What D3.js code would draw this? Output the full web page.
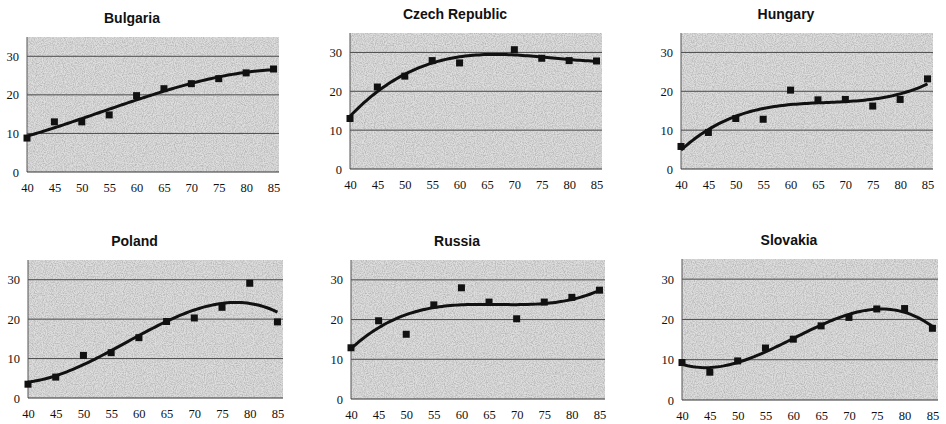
<!DOCTYPE html>
<html>
<head>
<meta charset="utf-8">
<script src="https://cdn.jsdelivr.net/npm/d3@7"></script>
<style>
  body { margin: 0; background: #fff; }
  .title { font: bold 14px "Liberation Sans", Arial, sans-serif; fill: #111; }
</style>
</head>
<body>
<div id="chart"></div>
<script>
/* data */
var years = [40, 45, 50, 55, 60, 65, 70, 75, 80, 85];
var yTicks = [0, 10, 20, 30];
var countries = ["Bulgaria", "Czech Republic", "Hungary", "Poland", "Russia", "Slovakia"];

var bulgaria = [8.8, 13.0, 13.0, 14.8, 19.8, 21.6, 22.9, 24.2, 25.7, 26.7];
var czech    = [13.0, 21.1, 23.9, 27.9, 27.3, null, 30.7, 28.5, 27.9, 27.8];
var hungary  = [5.8, 9.4, 13.0, 12.8, 20.3, 17.8, 17.9, 16.2, 17.9, 23.2];
var poland   = [3.5, 5.3, 10.8, 11.5, 15.3, 19.4, 20.3, 23.0, 29.1, 19.3];
var russia   = [12.9, 19.7, 16.3, 23.7, 28.0, 24.4, 20.2, 24.4, 25.6, 27.4];
var slovakia = [9.3, 6.9, 9.7, 12.9, 15.1, 18.4, 20.5, 22.6, 22.7, 17.8];

var series = [bulgaria, czech, hungary, poland, russia, slovakia];

/* plot rectangles of the six panels */
var frames = [
  { left: 27,  top: 37,  right: 279, bottom: 172 },
  { left: 350, top: 33,  right: 602, bottom: 169 },
  { left: 681, top: 33,  right: 933, bottom: 169 },
  { left: 28,  top: 260, right: 283, bottom: 398 },
  { left: 351, top: 260, right: 605, bottom: 399 },
  { left: 682, top: 259, right: 938, bottom: 400 }
];

var serif = "'Liberation Serif', 'Times New Roman', 'DejaVu Serif', serif";

var svg = d3.select("#chart").append("svg")
  .attr("width", 946)
  .attr("height", 424);

/* grainy gray fill like the scanned original */
var defs = svg.append("defs");
var grain = defs.append("filter").attr("id", "grain")
  .attr("x", 0).attr("y", 0).attr("width", 1).attr("height", 1);
grain.append("feTurbulence")
  .attr("type", "fractalNoise")
  .attr("baseFrequency", 0.9)
  .attr("numOctaves", 2)
  .attr("seed", 3)
  .attr("result", "noise");
grain.append("feColorMatrix")
  .attr("in", "noise")
  .attr("type", "matrix")
  .attr("values", "0 0 0 0 0  0 0 0 0 0  0 0 0 0 0  1.5 0 0 0 -0.5")
  .attr("result", "dots");
grain.append("feComposite")
  .attr("in", "SourceGraphic")
  .attr("in2", "dots")
  .attr("operator", "in");

/* least-squares cubic, like a spreadsheet polynomial trend line */
function cubicFit(xs, ys) {
  var pts = [];
  xs.forEach(function(x, i) {
    if (ys[i] != null) pts.push([(x - 62.5) / 22.5, ys[i]]);
  });
  var n = 4, A = [], b = [];
  for (var r = 0; r < n; r++) {
    A.push([0, 0, 0, 0]);
    b.push(0);
  }
  pts.forEach(function(p) {
    for (var r = 0; r < n; r++) {
      for (var c = 0; c < n; c++) A[r][c] += Math.pow(p[0], r + c);
      b[r] += p[1] * Math.pow(p[0], r);
    }
  });
  for (var k = 0; k < n; k++) {
    for (var r2 = k + 1; r2 < n; r2++) {
      var f = A[r2][k] / A[k][k];
      for (var c2 = k; c2 < n; c2++) A[r2][c2] -= f * A[k][c2];
      b[r2] -= f * b[k];
    }
  }
  var coef = [0, 0, 0, 0];
  for (var k2 = n - 1; k2 >= 0; k2--) {
    var s = b[k2];
    for (var c3 = k2 + 1; c3 < n; c3++) s -= A[k2][c3] * coef[c3];
    coef[k2] = s / A[k2][k2];
  }
  return function(x) {
    var t = (x - 62.5) / 22.5;
    return coef[0] + coef[1] * t + coef[2] * t * t + coef[3] * t * t * t;
  };
}

countries.forEach(function(name, i) {
  var fr = frames[i];
  var values = series[i];

  var x = d3.scaleLinear().domain([40, 86]).range([fr.left, fr.right]);
  var y = d3.scaleLinear().domain([0, 35]).range([fr.bottom, fr.top]);

  var g = svg.append("g").attr("class", "panel");

  /* background */
  g.append("rect")
    .attr("x", fr.left).attr("y", fr.top)
    .attr("width", fr.right - fr.left).attr("height", fr.bottom - fr.top)
    .attr("fill", "#dedede");
  g.append("rect")
    .attr("x", fr.left).attr("y", fr.top)
    .attr("width", fr.right - fr.left).attr("height", fr.bottom - fr.top)
    .attr("fill", "#a8a8a8")
    .attr("filter", "url(#grain)");

  /* grid lines */
  g.selectAll(".grid")
    .data(yTicks.filter(function(t) { return t > 0; }))
    .enter().append("line")
    .attr("x1", fr.left).attr("x2", fr.right)
    .attr("y1", function(d) { return y(d); })
    .attr("y2", function(d) { return y(d); })
    .attr("stroke", "#4a4a4a")
    .attr("stroke-width", 1);

  /* axes */
  var yAxis = g.append("g")
    .attr("transform", "translate(" + fr.left + ",0)")
    .call(d3.axisLeft(y).tickValues(yTicks).tickSize(0).tickPadding(8));
  yAxis.attr("font-family", null).attr("font-size", null);
  yAxis.select(".domain").attr("stroke", "#555").attr("d", "M0," + fr.top + "V" + fr.bottom);

  var xAxis = g.append("g")
    .attr("transform", "translate(0," + fr.bottom + ")")
    .call(d3.axisBottom(x).tickValues(years).tickSize(0).tickPadding(11));
  xAxis.attr("font-family", null).attr("font-size", null);
  xAxis.select(".domain").attr("stroke", "#333").attr("d", "M" + fr.left + ",0H" + fr.right);

  g.selectAll(".tick text")
    .style("font-family", serif)
    .style("font-size", "12.5px")
    .style("fill", "#111");

  /* trend line */
  var fit = cubicFit(years, values);
  var curve = d3.range(40, 85.01, 0.5);
  var line = d3.line()
    .x(function(d) { return x(d); })
    .y(function(d) { return y(fit(d)); });
  g.append("path")
    .datum(curve)
    .attr("d", line)
    .attr("fill", "none")
    .attr("stroke", "#111")
    .attr("stroke-width", 3);

  /* points */
  var pts = years.map(function(yr, j) { return { yr: yr, v: values[j] }; })
    .filter(function(d) { return d.v != null; });
  g.selectAll(".pt")
    .data(pts)
    .enter().append("rect")
    .attr("x", function(d) { return x(d.yr) - 3.5; })
    .attr("y", function(d) { return y(d.v) - 3.5; })
    .attr("width", 7).attr("height", 7)
    .attr("fill", "#111");

  /* title */
  g.append("text")
    .attr("class", "title")
    .attr("x", (fr.left + fr.right) / 2 - 21)
    .attr("y", fr.top - 14)
    .attr("text-anchor", "middle")
    .text(name);
});
</script>
</body>
</html>
